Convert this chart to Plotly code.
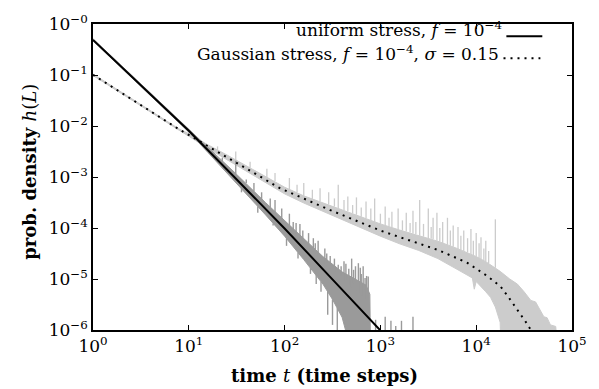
import plotly.graph_objects as go

# ---------------- data ----------------
# theory curves (t, h)
uniform_t = [1, 3, 10, 30, 100, 300, 1000]
uniform_h = [0.486, 0.0697, 8.07e-3, 9.9e-4, 9.8e-5, 1.09e-5, 9.8e-7]

gauss_t = [1, 3, 8, 15, 30, 90, 300, 1000, 4000, 8000, 13000, 18000, 22000, 27000, 34000, 40000]
gauss_h = [0.101, 0.0273, 8.5e-3, 4.27e-3, 2.0e-3, 6.0e-4, 2.24e-4, 8.9e-5, 3.7e-5,
           2.1e-5, 1.15e-5, 7.1e-6, 4.27e-6, 2.5e-6, 1.32e-6, 7.9e-7]

# simulation data, given as log10 values
# uniform stress: core band + noise excursions
uni_up_lt = [0, 1.0, 1.2, 1.5, 1.8, 2.0, 2.2, 2.4, 2.6, 2.75, 2.85, 2.89, 2.9]
uni_up_lh = [-0.29, -2.06, -2.42, -2.95, -3.50, -3.85, -4.22, -4.56, -4.86, -5.02, -5.12, -5.3, -7]
uni_lo_lt = [0, 1.0, 1.2, 1.5, 1.8, 2.0, 2.2, 2.4, 2.5, 2.6, 2.65, 2.9]
uni_lo_lh = [-0.33, -2.12, -2.52, -3.12, -3.74, -4.16, -4.62, -5.10, -5.40, -5.75, -6.1, -7]
uni_spk_lt = [1.35, 1.49, 1.6, 1.68, 1.76, 1.85, 1.9, 1.97, 2.05, 2.12, 2.16, 2.25, 2.3, 2.35,
              2.42, 2.476, 2.52, 2.56, 2.62, 2.67, 2.7, 2.74, 2.77, 2.8, 2.82, 2.856, 2.873,
              2.09, 2.19, 2.32, 2.44, 2.59, 2.64, 2.72, 2.79, 2.84,
              1.55, 1.72, 1.88, 2.02, 2.14, 2.27, 2.33, 2.38, 2.45, 2.5, 2.55,
              2.95, 3.05, 3.11, 3.16, 3.22, 3.34]
uni_spk_base = [-2.70, -2.95, -3.12, -3.28, -3.45, -3.60, -3.70, -3.82, -3.98, -4.12, -4.19,
                -4.36, -4.46, -4.55, -4.69, -4.79, -4.87, -4.95, -5.04, -5.12, -5.17, -5.23,
                -5.28, -5.32, -5.35, -5.41, -5.45,
                -4.05, -4.25, -4.50, -4.70, -4.95, -5.02, -5.08, -5.15, -5.20,
                -3.22, -3.58, -3.91, -4.20, -4.48, -4.78, -4.92, -5.05, -5.25, -5.40, -5.57,
                -7, -7, -7, -7, -7, -7]
uni_spk_top = [-2.62, -2.68, -3.05, -3.12, -3.30, -3.42, -3.45, -3.62, -3.72, -3.90, -3.92,
               -4.10, -4.20, -4.25, -4.40, -4.55, -4.60, -4.72, -4.65, -4.80, -4.60, -4.75,
               -4.69, -4.90, -4.75, -4.94, -4.95,
               -3.88, -4.05, -4.30, -4.50, -4.75, -4.70, -4.82, -4.78, -4.98,
               -3.30, -3.70, -3.95, -4.35, -4.60, -4.90, -5.10, -5.25, -5.70, -5.90, -6.2,
               -5.80, -5.74, -5.82, -5.92, -5.82, -5.74]

# Gaussian stress: core band + upward spikes
gau_up_lt = [0, 0.5, 0.9, 1.0, 1.2, 1.4, 1.6, 1.8, 2.0, 2.2, 2.4, 2.6, 2.8, 3.0, 3.2, 3.4, 3.6,
             3.8, 4.0, 4.1, 4.15, 4.2, 4.25, 4.35, 4.43, 4.5, 4.57, 4.62, 4.65, 4.706, 4.74,
             4.775, 4.83, 4.88]
gau_up_lh = [-0.98, -1.575, -2.06, -2.15, -2.37, -2.57, -2.78, -2.99, -3.20, -3.37, -3.51, -3.64,
             -3.78, -3.92, -4.04, -4.15, -4.26, -4.40, -4.56, -4.66, -4.72, -4.78, -4.85, -5.00,
             -5.10, -5.25, -5.42, -5.45, -5.55, -5.74, -5.76, -5.90, -5.93, -7]
gau_lo_lt = [0, 0.5, 0.9, 1.0, 1.2, 1.4, 1.6, 1.8, 2.0, 2.2, 2.4, 2.6, 2.8, 3.0, 3.2, 3.4, 3.6,
             3.8, 3.96, 3.98, 4.0, 4.1, 4.15, 4.2, 4.25, 4.27, 4.88]
gau_lo_lh = [-1.01, -1.605, -2.085, -2.20, -2.44, -2.66, -2.88, -3.11, -3.33, -3.51, -3.68, -3.84,
             -4.00, -4.16, -4.31, -4.44, -4.60, -4.81, -4.98, -5.20, -5.05, -5.25, -5.36, -5.55,
             -5.85, -7, -7]
gau_spk_lt = [1.3, 1.49, 1.64, 1.815, 1.9, 2.05, 2.13, 2.2, 2.29, 2.37, 2.46, 2.52, 2.56, 2.62,
              2.66, 2.71, 2.75, 2.8, 2.85, 2.9, 2.94, 3.0, 3.05, 3.09, 3.12, 3.185, 3.23, 3.27,
              3.31, 3.34, 3.37, 3.41, 3.45, 3.50, 3.53, 3.55, 3.59, 3.62, 3.65, 3.70, 3.73,
              3.76, 3.81, 3.84, 3.87, 3.91, 3.945, 3.97, 4.0, 4.03, 4.05, 4.08, 4.1, 4.13, 4.2]
gau_spk_base = [-2.50, -2.67, -2.82, -3.00, -3.08, -3.24, -3.30, -3.37, -3.43, -3.48, -3.54,
                -3.58, -3.61, -3.65, -3.67, -3.71, -3.74, -3.78, -3.81, -3.85, -3.88, -3.92,
                -3.95, -3.97, -3.99, -4.03, -4.05, -4.07, -4.09, -4.11, -4.12, -4.15, -4.17,
                -4.20, -4.21, -4.22, -4.25, -4.27, -4.30, -4.33, -4.35, -4.37, -4.41, -4.43,
                -4.45, -4.48, -4.51, -4.53, -4.56, -4.59, -4.61, -4.64, -4.66, -4.69, -4.78]
gau_spk_top = [-2.40, -2.50, -2.70, -2.84, -2.92, -3.02, -3.15, -3.12, -3.25, -3.22, -3.30,
               -3.42, -3.15, -3.45, -3.38, -3.55, -3.40, -3.60, -3.48, -3.62, -3.42, -3.72,
               -3.58, -3.80, -3.68, -3.62, -3.85, -3.70, -3.90, -3.66, -3.88, -3.45, -3.92,
               -3.62, -3.98, -3.80, -3.70, -4.00, -3.88, -3.80, -4.05, -3.95, -3.98, -4.15,
               -4.05, -4.20, -4.02, -4.25, -4.10, -4.30, -4.18, -4.40, -4.25, -4.45, -3.83]

x_tick_vals = [1, 10, 100, 1000, 10000, 100000]
x_tick_text = ["10<sup>0</sup>", "10<sup>1</sup>", "10<sup>2</sup>", "10<sup>3</sup>",
               "10<sup>4</sup>", "10<sup>5</sup>"]
y_tick_vals = [1, 1e-1, 1e-2, 1e-3, 1e-4, 1e-5, 1e-6]
y_tick_text = ["10<sup>−0</sup>", "10<sup>−1</sup>", "10<sup>−2</sup>", "10<sup>−3</sup>",
               "10<sup>−4</sup>", "10<sup>−5</sup>", "10<sup>−6</sup>"]

LIGHT = "#cccccc"
DARK = "#9a9a9a"
FONT = "DejaVu Serif"


def p10(v):
    return [10 ** a for a in v]


def band(up_lt, up_lh, lo_lt, lo_lh):
    xs = p10(up_lt) + p10(lo_lt)[::-1]
    ys = p10(up_lh) + p10(lo_lh)[::-1]
    return xs, ys


def spikes(lt, base, top):
    xs, ys = [], []
    for a, b, c in zip(lt, base, top):
        xs += [10 ** a, 10 ** a, None]
        ys += [10 ** b, 10 ** c, None]
    return xs, ys


fig = go.Figure()

gx, gy = band(gau_up_lt, gau_up_lh, gau_lo_lt, gau_lo_lh)
fig.add_trace(go.Scatter(x=gx, y=gy, mode="lines", fill="toself", fillcolor=LIGHT,
                         line=dict(color=LIGHT, width=1), hoverinfo="skip", showlegend=False))
sx, sy = spikes(gau_spk_lt, gau_spk_base, gau_spk_top)
fig.add_trace(go.Scatter(x=sx, y=sy, mode="lines", line=dict(color=LIGHT, width=1.3),
                         hoverinfo="skip", showlegend=False))

ux, uy = band(uni_up_lt, uni_up_lh, uni_lo_lt, uni_lo_lh)
fig.add_trace(go.Scatter(x=ux, y=uy, mode="lines", fill="toself", fillcolor=DARK,
                         line=dict(color=DARK, width=1), hoverinfo="skip", showlegend=False))
sx, sy = spikes(uni_spk_lt, uni_spk_base, uni_spk_top)
fig.add_trace(go.Scatter(x=sx, y=sy, mode="lines", line=dict(color=DARK, width=1.4),
                         hoverinfo="skip", showlegend=False))

fig.add_trace(go.Scatter(x=uniform_t, y=uniform_h, mode="lines",
                         line=dict(color="black", width=2), showlegend=False))
fig.add_trace(go.Scatter(x=gauss_t, y=gauss_h, mode="lines",
                         line=dict(color="black", width=2, dash="2px,5px"), showlegend=False))

axis_common = dict(showline=True, linecolor="black", linewidth=1.5, mirror="ticks",
                   ticks="inside", ticklen=5, tickwidth=1, tickcolor="black",
                   showgrid=False, zeroline=False,
                   tickfont=dict(family=FONT, size=17, color="black"))

fig.update_xaxes(type="log", range=[0, 5], tickvals=x_tick_vals, ticktext=x_tick_text,
                 **axis_common)
fig.update_yaxes(type="log", range=[-6, 0], tickvals=y_tick_vals, ticktext=y_tick_text,
                 **axis_common)

ann_font = dict(family=FONT, size=17, color="black")
title_font = dict(family=FONT, size=18, color="black")
annotations = [
    dict(text="<b>time </b><i>t</i><b> (time steps)</b>", x=0.483, y=-0.150,
         xref="paper", yref="paper", xanchor="center", yanchor="middle",
         showarrow=False, font=title_font),
    dict(text="<b>prob. density </b><i>h</i>(<i>L</i>)", x=-0.133, y=0.518,
         xref="paper", yref="paper", xanchor="center", yanchor="middle", textangle=-90,
         showarrow=False, font=title_font),
    dict(text="uniform stress, <i>f</i> = 10<sup>−4</sup>", x=0.859, y=0.985,
         xref="paper", yref="paper", xanchor="right", yanchor="middle",
         showarrow=False, font=ann_font),
    dict(text="Gaussian stress, <i>f</i> = 10<sup>−4</sup>, <i>σ</i> = 0.15", x=0.851, y=0.905,
         xref="paper", yref="paper", xanchor="right", yanchor="middle",
         showarrow=False, font=ann_font),
]
shapes = [
    dict(type="line", xref="paper", yref="paper", x0=0.863, x1=0.938, y0=0.960, y1=0.960,
         line=dict(color="black", width=2)),
    dict(type="line", xref="paper", yref="paper", x0=0.857, x1=0.934, y0=0.888, y1=0.888,
         line=dict(color="black", width=2, dash="2px,5px")),
]

fig.update_layout(width=599, height=389, margin=dict(l=93, r=24, t=17, b=59),
                  paper_bgcolor="white", plot_bgcolor="white",
                  annotations=annotations, shapes=shapes, showlegend=False)

fig.write_html("out.html")
